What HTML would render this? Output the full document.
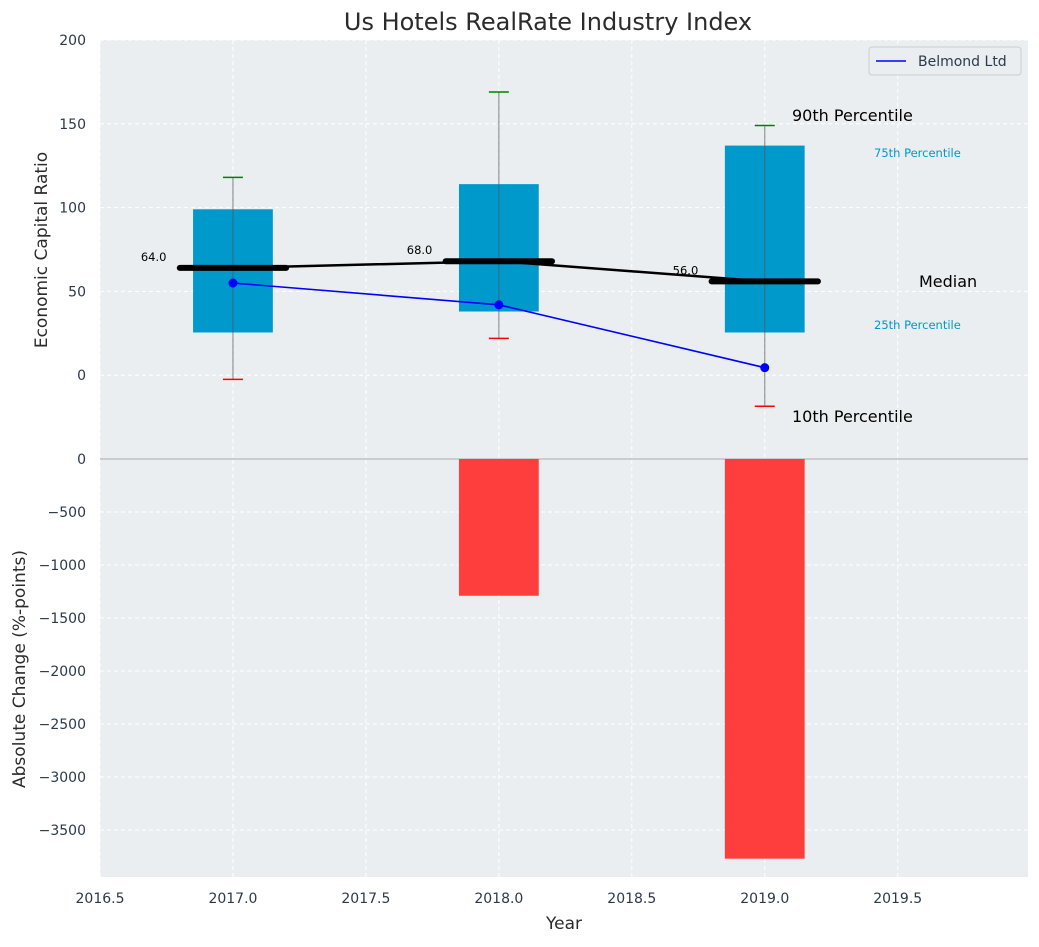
<!DOCTYPE html>
<html><head><meta charset="utf-8"><style>
body{margin:0;background:#fff;font-family:"Liberation Sans","DejaVu Sans",sans-serif}
</style></head><body>
<svg id="chart" width="1039" height="942" xmlns="http://www.w3.org/2000/svg" font-family="DejaVu Sans, Liberation Sans, sans-serif"></svg>
<script>
const years=[2017,2018,2019];
const p10=[-2.5,22,-18.5];
const p25=[25.5,38,25.5];
const p75=[99,114,137];
const p90=[118,169,149];
const medians=[64,68,56];
const belmond=[55,42,4.5];
const changes=[0,-1290,-3770];
const xTicks=[2016.5,2017.0,2017.5,2018.0,2018.5,2019.0,2019.5];
const yTopTicks=[0,50,100,150,200];
const yBotTicks=[0,-500,-1000,-1500,-2000,-2500,-3000,-3500];

const NS="http://www.w3.org/2000/svg";
const svg=document.getElementById('chart');
const L=100,R=1028,T1=40,B1=459,T2=459,B2=877;
const X=v=>L+(v-2016.5)/(3.49)*(R-L);
const Y1=v=>B1-(v+50)/250*(B1-T1);
const Y2=v=>T2+(v/(-3943))*(B2-T2);
function el(tag,attrs,name,inter){const e=document.createElementNS(NS,tag);for(const k in attrs)e.setAttribute(k,attrs[k]);


svg.appendChild(e);return e;}
function txt(x,y,s,attrs,name){const e=el('text',Object.assign({x:x,y:y},attrs),name,false);e.textContent=s;return e;}

el('rect',{x:L,y:T1,width:R-L,height:B1-T1,fill:'#eaeef0'},'top-plot-area');
el('rect',{x:L,y:T2,width:R-L,height:B2-T2,fill:'#eaeef0'},'bottom-plot-area');
xTicks.forEach(t=>{el('line',{x1:X(t),x2:X(t),y1:T1,y2:B2,stroke:'#fff','stroke-dasharray':'4,3'},'x-grid',false);
txt(X(t),903,t.toFixed(1),{'text-anchor':'middle','font-size':14,fill:'#2b3a4a'},'x-tick-label');});
yTopTicks.forEach(t=>{el('line',{x1:L,x2:R,y1:Y1(t),y2:Y1(t),stroke:'#fff','stroke-dasharray':'4,3'},'y-grid-top',false);
txt(86,Y1(t)+5,String(t),{'text-anchor':'end','font-size':14,fill:'#2b3a4a'},'y-top-tick-label');});
yBotTicks.forEach(t=>{el('line',{x1:L,x2:R,y1:Y2(t),y2:Y2(t),stroke:'#fff','stroke-dasharray':'4,3'},'y-grid-bottom',false);
txt(86,Y2(t)+5,String(t).replace('-','−'),{'text-anchor':'end','font-size':14,fill:'#2b3a4a'},'y-bottom-tick-label');});
el('line',{x1:L,x2:R,y1:B1,y2:B1,stroke:'#aaa'},'axes-divider',false);

const bw=0.3;
years.forEach((yr,i)=>{
 el('rect',{x:X(yr-bw/2),y:Y1(p75[i]),width:X(yr+bw/2)-X(yr-bw/2),height:Y1(p25[i])-Y1(p75[i]),fill:'#0099cc'},'box-'+yr,true);
 el('line',{x1:X(yr),x2:X(yr),y1:Y1(p90[i]),y2:Y1(p10[i]),stroke:'#555','stroke-opacity':0.6,'stroke-width':1.2},'whisker-'+yr,false);
 el('line',{x1:X(yr)-10,x2:X(yr)+10,y1:Y1(p90[i]),y2:Y1(p90[i]),stroke:'green','stroke-width':1.5},'cap-90-'+yr,false);
 el('line',{x1:X(yr)-10,x2:X(yr)+10,y1:Y1(p10[i]),y2:Y1(p10[i]),stroke:'red','stroke-width':1.5},'cap-10-'+yr,false);
 if(changes[i]!==0) el('rect',{x:X(yr-bw/2),y:Y2(0),width:X(yr+bw/2)-X(yr-bw/2),height:Y2(changes[i])-Y2(0),fill:'#ff3333','fill-opacity':0.95},'change-bar-'+yr,true);
});
el('polyline',{points:years.map((y,i)=>X(y)+','+Y1(medians[i])).join(' '),fill:'none',stroke:'#000','stroke-width':2.5},'median-line',false);
years.forEach((yr,i)=>{
 el('line',{x1:X(yr-0.2),x2:X(yr+0.2),y1:Y1(medians[i]),y2:Y1(medians[i]),stroke:'#000','stroke-width':6,'stroke-linecap':'round'},'median-bar-'+yr,false);
 txt(X(yr-0.25),Y1(medians[i])-7,medians[i].toFixed(1),{'text-anchor':'end','font-size':11.5,fill:'#000'},'median-label-'+yr);
});
el('polyline',{points:years.map((y,i)=>X(y)+','+Y1(belmond[i])).join(' '),fill:'none',stroke:'#0000ff','stroke-width':1.6},'belmond-line',false);
years.forEach((yr,i)=>el('circle',{cx:X(yr),cy:Y1(belmond[i]),r:4.5,fill:'#0000ff'},'belmond-point-'+yr,true));

txt(792,121,'90th Percentile',{'font-size':16,fill:'#000'},'label-90th');
txt(874,157,'75th Percentile',{'font-size':11.5,fill:'#0099cc'},'label-75th');
txt(919,287,'Median',{'font-size':16,fill:'#000'},'label-median');
txt(874,329,'25th Percentile',{'font-size':11.5,fill:'#0099cc'},'label-25th');
txt(792,422,'10th Percentile',{'font-size':16,fill:'#000'},'label-10th');

el('rect',{x:869,y:47,width:152,height:28,rx:3,fill:'#eaeef0',stroke:'#ccc'},'legend',true);
el('line',{x1:876,x2:906,y1:61,y2:61,stroke:'#0000ff','stroke-width':1.6},'legend-swatch',false);
txt(918,66,'Belmond Ltd',{'font-size':14,fill:'#2b3a4a'},'legend-label');

txt(548,30,'Us Hotels RealRate Industry Index',{'text-anchor':'middle','font-size':24,fill:'#2b2b2b'},'chart-title');
txt(564,929,'Year',{'text-anchor':'middle','font-size':17,fill:'#2b2b2b'},'x-axis-title');
txt(0,0,'Economic Capital Ratio',{'text-anchor':'middle','font-size':17,fill:'#2b2b2b',transform:'translate(47,250) rotate(-90)'},'y-top-axis-title');
txt(0,0,'Absolute Change (%-points)',{'text-anchor':'middle','font-size':17,fill:'#2b2b2b',transform:'translate(25,669) rotate(-90)'},'y-bottom-axis-title');
</script>
</body></html>
